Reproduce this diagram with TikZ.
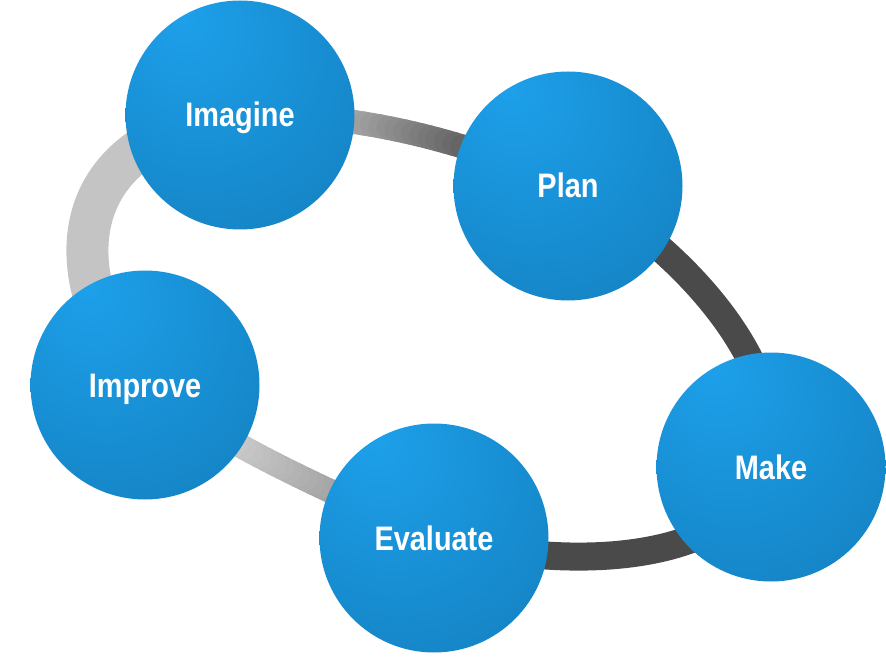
\documentclass[tikz,border=0pt]{standalone}
\usepackage{fontspec}
\newfontfamily\labelfont[FakeStretch=0.85]{Liberation Sans}
\usetikzlibrary{backgrounds}

\definecolor{bubbleLight}{HTML}{1DA0EA}
\definecolor{bubbleDark}{HTML}{0E6EA8}
\definecolor{ringPale}{HTML}{C4C4C4}
\definecolor{ringLight}{HTML}{AEAEAE}
\definecolor{ringDark}{HTML}{646464}
\definecolor{ringMid}{HTML}{A2A2A2}
\definecolor{ringSoft}{HTML}{C7C7C7}
\definecolor{ringCoal}{HTML}{4A4A4A}

\pgfdeclareradialshading{bubble}{\pgfpoint{-13bp}{22bp}}{color(0bp)=(bubbleLight); color(72bp)=(bubbleDark)}

\tikzset{
  stage/.style={circle, minimum size=229pt, inner sep=0pt, shading=bubble, text=white,
    font=\labelfont\bfseries\fontsize{34}{40}\selectfont, text height=24pt, text depth=0pt},
  band/.style={line cap=round}
}

\begin{document}
\begin{tikzpicture}[x=1pt, y=-1pt]
  \useasboundingbox (0,0) rectangle (886,671);

  \node[stage] (imagine) at (240,115) {Imagine};
  \node[stage] (plan) at (568,186) {Plan};
  \node[stage] (make) at (771,467) {Make};
  \node[stage] (evaluate) at (434,538) {Evaluate};
  \node[stage] (improve) at (145,385) {Improve};

  \begin{pgfonlayer}{background}
    % solid parts of the ring
    \draw[band, line width=42pt, ringPale] (improve.center) .. controls (65,300) and (45,140) .. (imagine.center);
    \draw[band, line width=27pt, ringCoal] (plan.center) .. controls (635,215) and (790,340) .. (make.center);
    \draw[band, line width=28pt, ringCoal] (make.center) .. controls (740,553) and (600,578) .. (evaluate.center);

    % shaded parts, drawn piece by piece
    \foreach \i in {0,...,40}{
      \pgfmathsetmacro\tpos{\i/40}
      \path (imagine.center) .. controls (350,112) and (460,138) .. (plan.center) coordinate[pos=\tpos] (ip\i);
      \path (evaluate.center) .. controls (350,500) and (230,450) .. (improve.center) coordinate[pos=\tpos] (ei\i);
    }
    \foreach \i [count=\j] in {0,...,39}{
      \pgfmathsetmacro\pct{max(0,min(100,(\i/40-0.3)/0.38*100))}
      \draw[band, line width=24pt, ringDark!\pct!ringLight] (ip\i) -- (ip\j);
      \pgfmathsetmacro\pct{max(0,min(100,(\i/40-0.36)/0.31*100))}
      \draw[band, line width=24pt, ringSoft!\pct!ringMid] (ei\i) -- (ei\j);
    }
  \end{pgfonlayer}
\end{tikzpicture}
\end{document}
